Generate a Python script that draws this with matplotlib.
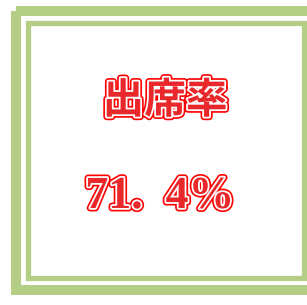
import matplotlib
matplotlib.use("Agg")
import matplotlib.pyplot as plt
from matplotlib.patches import Rectangle
import matplotlib.patheffects as pe

title_text = "出席率"
rate_value = 71.4
rate_text = f"{rate_value:.1f}".replace(".", ".  ") + "%"

green = "#b5ce85"

fig = plt.figure(figsize=(3.07, 3.05), dpi=100)
ax = fig.add_axes([0, 0, 1, 1])
ax.set_xlim(0, 307)
ax.set_ylim(305, 0)
ax.axis("off")

# outer band
ax.add_patch(Rectangle((16, 10.7), 300, 279.3, fill=False, edgecolor=green, linewidth=7.2, joinstyle="miter"))
# inner band
ax.add_patch(Rectangle((28, 22.7), 276.3, 255.6, fill=False, edgecolor=green, linewidth=3.8, joinstyle="miter"))

effects = [pe.Stroke(linewidth=5, foreground="#ff0000"),
           pe.Stroke(linewidth=2.6, foreground="white"),
           pe.Normal()]

ax.text(165, 101, title_text, ha="center", va="center", fontsize=30,
        family=["Noto Sans CJK JP"], fontweight="bold", color="#e8282a",
        path_effects=effects)
ax.text(160, 197, rate_text, ha="center", va="center", fontsize=33,
        family=["Liberation Serif"], fontweight="bold", color="#e8282a",
        path_effects=effects)

fig.savefig("out.png", dpi=100)
